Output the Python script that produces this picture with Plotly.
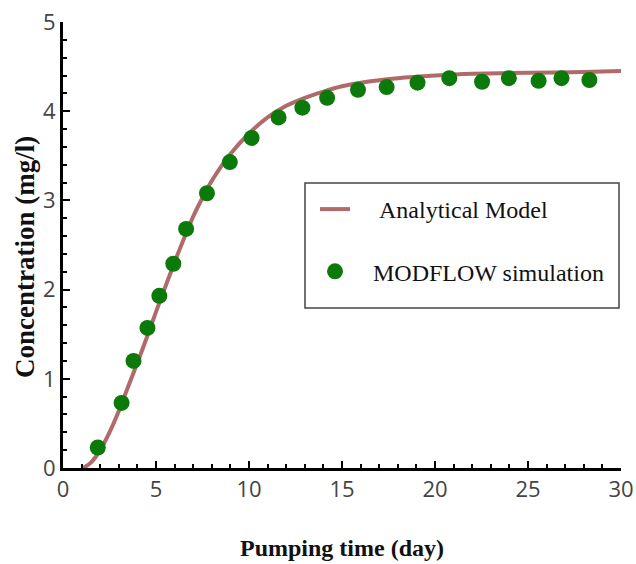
import plotly.graph_objects as go

# Analytical model curve
model_x = [1.1, 1.5, 2.0, 2.5, 3.0, 3.5, 4.0, 4.5, 5.0, 5.5, 6.0, 6.5, 7.0, 7.5, 8.0,
           9.0, 10, 11, 12, 13, 14, 15, 16, 18, 20, 22, 25, 28, 30]
model_y = [0.0, 0.06, 0.20, 0.40, 0.64, 0.91, 1.18, 1.46, 1.75, 2.03, 2.31, 2.57, 2.82,
           3.03, 3.22, 3.52, 3.75, 3.93, 4.06, 4.15, 4.22, 4.28, 4.32, 4.37, 4.40, 4.42,
           4.43, 4.44, 4.45]

# MODFLOW simulation points
sim_x = [1.87, 3.15, 3.79, 4.54, 5.18, 5.93, 6.62, 7.74, 8.97, 10.14, 11.59, 12.87,
         14.2, 15.86, 17.4, 19.06, 20.77, 22.53, 23.97, 25.57, 26.8, 28.3]
sim_y = [0.23, 0.73, 1.20, 1.57, 1.93, 2.29, 2.68, 3.08, 3.43, 3.70, 3.93, 4.04,
         4.15, 4.24, 4.27, 4.32, 4.37, 4.33, 4.37, 4.34, 4.37, 4.35]

x_ticks = [0, 5, 10, 15, 20, 25, 30]
y_ticks = [0, 1, 2, 3, 4, 5]

NB = "\u00a0"
L, R, T, B = 63, 15, 22, 96
PW, PH = 636 - L - R, 564 - T - B

fig = go.Figure()
fig.add_trace(go.Scatter(x=model_x, y=model_y, mode="lines",
                         name=NB * 4 + "Analytical Model",
                         line=dict(color="#b06a6a", width=4, shape="spline", smoothing=0.6),
                         legendgroup="a"))
fig.add_trace(go.Scatter(x=sim_x, y=sim_y, mode="markers",
                         name=NB * 3 + "MODFLOW simulation",
                         marker=dict(color="#0b7a0b", size=16,
                                     line=dict(color="#0b7a0b", width=0)),
                         legendgroup="b"))

tickfont = dict(family="Open Sans, Liberation Sans, sans-serif", size=22, color="#444444")
serif = "Liberation Serif, Times New Roman, serif"

fig.update_layout(
    width=636, height=564,
    margin=dict(l=L, r=R, t=T, b=B, autoexpand=False),
    plot_bgcolor="white", paper_bgcolor="white",
    showlegend=True,
    legend=dict(x=(315 - L) / PW, y=(468 - 187) / PH, xanchor="left", yanchor="top",
                bgcolor="rgba(0,0,0,0)", borderwidth=0,
                font=dict(family=serif, size=24, color="#111111"),
                tracegroupgap=28, traceorder="grouped"),
    shapes=[dict(type="rect", xref="paper", yref="paper",
                 x0=(305 - L) / PW, x1=(619 - L) / PW,
                 y0=(468 - 308) / PH, y1=(468 - 183) / PH,
                 line=dict(color="#444444", width=1.5), fillcolor="rgba(0,0,0,0)")],
    annotations=[dict(text="<b>Concentration (mg/l)</b>", textangle=-90,
                      xref="paper", yref="paper",
                      x=(25 - L) / PW, y=(468 - 257) / PH,
                      xanchor="center", yanchor="middle", showarrow=False,
                      font=dict(family=serif, size=27, color="#111111"))],
    xaxis=dict(range=[0, 30], tickvals=x_ticks, showgrid=False, zeroline=False,
               showline=True, linecolor="black", linewidth=3, automargin=False,
               ticks="inside", ticklen=7, tickwidth=2, tickcolor="black",
               minor=dict(dtick=1, ticks="inside", ticklen=4, tickwidth=1.5,
                          tickcolor="black", showgrid=False),
               tickfont=tickfont, ticklabeloverflow="allow",
               title=dict(text="<b>Pumping time (day)</b>",
                          font=dict(family=serif, size=24, color="#111111"), standoff=37)),
    yaxis=dict(range=[0, 5], tickvals=y_ticks, showgrid=False, zeroline=False,
               showline=True, linecolor="black", linewidth=3, automargin=False,
               ticks="inside", ticklen=7, tickwidth=2, tickcolor="black",
               minor=dict(dtick=0.2, ticks="inside", ticklen=4, tickwidth=1.5,
                          tickcolor="black", showgrid=False),
               tickfont=tickfont, ticklabeloverflow="allow"),
)

fig.write_html("out.html")
